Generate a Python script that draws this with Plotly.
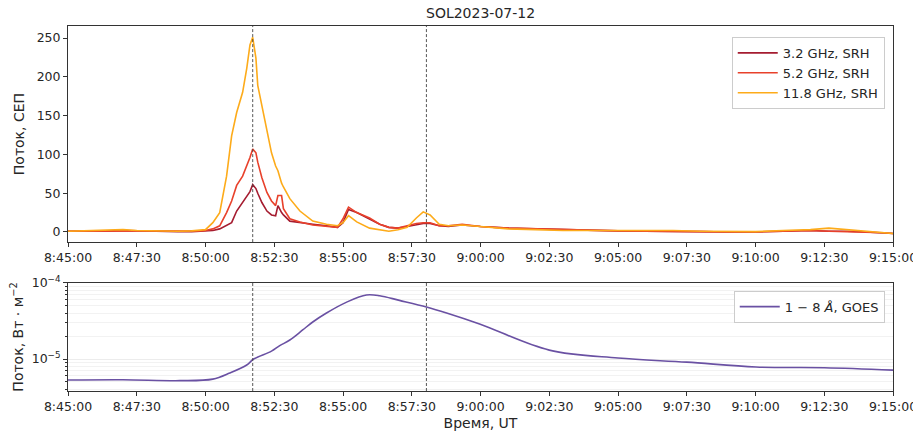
import plotly.graph_objects as go
from datetime import datetime, timedelta

DAY = "2023-07-12"
T0 = datetime(2023, 7, 12, 8, 45, 0)

# SRH radio flux (SFU) - seconds after 08:45:00
srh_seconds = [0, 30, 60, 90, 120, 150, 180, 210, 240, 270, 290, 300, 316, 331, 346, 357,
               368, 381, 390, 397, 403, 410, 414, 423, 434, 444, 453, 458, 466, 470, 484,
               506, 534, 564, 588, 600, 612, 630, 658, 680, 700, 720, 740, 760, 775, 790,
               810, 830, 860, 900, 960, 1020, 1080, 1140, 1200, 1260, 1320, 1380, 1440,
               1500, 1560, 1620, 1660, 1700, 1740, 1780, 1800]
flux_3_2 = [1, 1, 1, 1.5, 2, 1.5, 1, 1, 0.5, 0.5, 1, 1, 2, 4, 9, 12,
            27, 38, 47, 52, 61, 56, 50, 38, 27, 22, 21, 34, 25, 22, 14,
            12, 10, 8, 6, 12, 29, 25, 17, 10, 6, 5, 7, 9, 11, 11,
            8, 7, 9, 7, 5, 4, 3, 2, 1.5, 1, 1, 0.5, 0,
            0, 1, 2, 1, 1, 0, -1, -2]
flux_5_2 = [1, 1, 1, 1, 1.5, 1, 1, 1, 1, 1, 1.5, 2, 4, 8, 25, 40,
            60, 72, 85, 96, 107, 102, 90, 70, 51, 40, 34, 47, 47, 30, 17,
            13, 9, 7, 6, 17, 32, 25, 18, 10, 6, 5, 8, 11, 12, 12,
            8, 8, 10, 7, 5, 4, 3, 2, 1.5, 1, 1, 0.5, 0,
            0, 1, 2, 1, 0.5, 0, -1, -2]
flux_11_8 = [1, 1.5, 2, 2, 3, 2, 1.5, 1, 1, 1.5, 2.5, 3, 12, 25, 72, 124,
             154, 180, 211, 241, 251, 224, 189, 163, 128, 102, 85, 79, 63, 58, 43,
             27, 14, 10, 8, 12, 21, 13, 5, 3, 1, 3, 6, 18, 26, 22,
             10, 8, 9, 7, 4, 3, 2, 2, 2, 1.5, 2, 1, 1,
             0.5, 2, 3, 5, 3, 1, -1, -2]

# GOES 1-8 A flux (W m^-2)
goes_seconds = [0, 120, 244, 316, 353, 390, 405, 444, 462, 484, 512, 534, 564, 608,
                651, 680, 723, 782, 826, 898, 1050, 1200, 1350, 1501, 1650, 1800]
goes_flux = [5.3e-6, 5.35e-6, 5.2e-6, 5.45e-6, 6.55e-6, 8.34e-6, 1.0e-5, 1.27e-5,
             1.5e-5, 1.78e-5, 2.41e-5, 3.07e-5, 4.03e-5, 5.6e-5,
             6.95e-5, 6.8e-5, 5.9e-5, 4.83e-5, 4.03e-5, 2.89e-5, 1.31e-5, 1.03e-5,
             9.1e-6, 7.85e-6, 7.7e-6, 7.16e-6]

event_seconds = [403, 782]

tick_labels = ["8:45:00", "8:47:30", "8:50:00", "8:52:30", "8:55:00", "8:57:30",
               "9:00:00", "9:02:30", "9:05:00", "9:07:30", "9:10:00", "9:12:30", "9:15:00"]


def to_time(secs):
    return [T0 + timedelta(seconds=s) for s in secs]


tickvals = [datetime.strptime(DAY + " " + lbl, "%Y-%m-%d %H:%M:%S") for lbl in tick_labels]

FONT = "DejaVu Sans, Verdana, sans-serif"
TXT = "#262626"

fig = go.Figure()
srh_series = [("3.2 GHz, SRH", flux_3_2, "#a51c30"),
              ("5.2 GHz, SRH", flux_5_2, "#e8412b"),
              ("11.8 GHz, SRH", flux_11_8, "#fdab1a")]
for name, vals, col in srh_series:
    fig.add_trace(go.Scatter(x=to_time(srh_seconds), y=vals, name=name, mode="lines",
                             line=dict(color=col, width=1.6), xaxis="x", yaxis="y",
                             legend="legend"))

fig.add_trace(go.Scatter(x=to_time(goes_seconds), y=goes_flux, name="1 − 8 <i>Å</i>, GOES",
                         mode="lines", line=dict(color="#6a51a3", width=1.6, shape="spline"),
                         xaxis="x2", yaxis="y2", legend="legend2"))

for s in event_seconds:
    t = T0 + timedelta(seconds=s)
    for xa, ya in (("x", "y"), ("x2", "y2")):
        fig.add_shape(type="line", x0=t, x1=t, y0=0, y1=1, xref=xa,
                      yref=ya + " domain", line=dict(color="#444444", width=0.9, dash="3px,2px"))

xr = [T0, T0 + timedelta(minutes=30)]
axis_common = dict(showline=True, linecolor="#333333", linewidth=1, mirror=True,
                   ticks="outside", ticklen=4, tickcolor="#333333", automargin=False,
                   tickfont=dict(size=12.5, color=TXT, family=FONT), zeroline=False)

minor_vals = [m * 10 ** e for e in (-6, -5) for m in range(2, 10)]

# page body has an 8px margin, so the figure is drawn at (8, 8)
fig.update_layout(
    width=913, height=423,
    margin=dict(l=60, r=28, t=18, b=40),
    paper_bgcolor="white", plot_bgcolor="white",
    font=dict(family=FONT, color=TXT, size=13),
    showlegend=True,
    xaxis=dict(domain=[0, 1], range=xr, tickvals=tickvals, ticktext=tick_labels,
               anchor="y", showgrid=False, **axis_common),
    yaxis=dict(domain=[0.408, 1], range=[-13, 265.5], tickvals=[0, 50, 100, 150, 200, 250],
               showgrid=False, anchor="x",
               title=dict(text="Поток, СЕП", font=dict(size=14), standoff=8), **axis_common),
    xaxis2=dict(domain=[0, 1], range=xr, tickvals=tickvals, ticktext=tick_labels,
                anchor="y2", showgrid=False,
                title=dict(text="Время, UT", font=dict(size=14), standoff=6), **axis_common),
    yaxis2=dict(domain=[0, 0.296], type="log", range=[-5.42, -4.0],
                tickvals=[1e-5, 1e-4], ticktext=["10<sup>−5</sup>", "10<sup>−4</sup>"],
                showgrid=True, gridcolor="#ececec", gridwidth=1, anchor="x2",
                minor=dict(tickvals=minor_vals, ticks="outside", ticklen=2,
                           tickcolor="#333333", showgrid=True, gridcolor="#f2f2f2"),
                title=dict(text="Поток, Вт · м<sup>−2</sup>", font=dict(size=14), standoff=8),
                **axis_common),
    legend=dict(x=0.99, y=0.97, xanchor="right", yanchor="top", bgcolor="rgba(255,255,255,0.9)",
                bordercolor="#cccccc", borderwidth=1, font=dict(size=13, color=TXT),
                tracegroupgap=0, itemwidth=40),
    legend2=dict(x=0.99, y=0.275, xanchor="right", yanchor="top", bgcolor="rgba(255,255,255,0.9)",
                 bordercolor="#cccccc", borderwidth=1, font=dict(size=13, color=TXT),
                 itemwidth=40),
)

fig.add_annotation(text="SOL2023-07-12", x=0.5, y=1, xref="paper", yref="paper",
                   xanchor="center", yanchor="bottom", yshift=3, showarrow=False,
                   font=dict(size=14, color=TXT))

fig.write_html("out.html")
